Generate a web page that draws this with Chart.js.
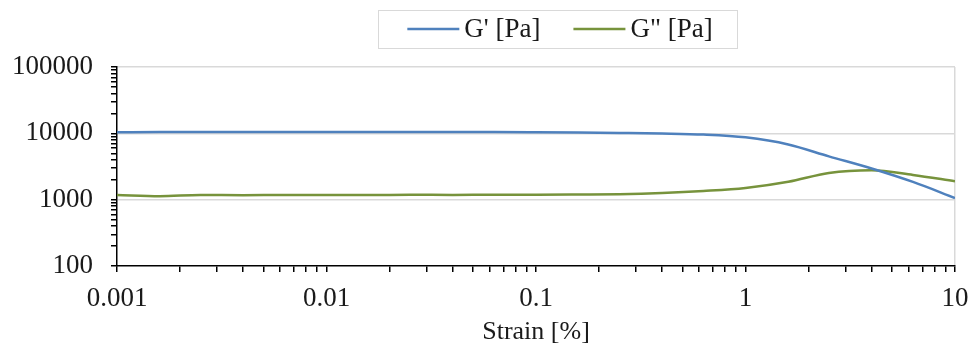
<!DOCTYPE html>
<html>
<head>
<meta charset="utf-8">
<script src="https://cdn.jsdelivr.net/npm/chart.js@4.4.1/dist/chart.umd.min.js"></script>
<style>
  html, body { margin: 0; padding: 0; background: #fff; }
  #wrap { width: 972px; height: 351px; position: relative; }
</style>
</head>
<body>
<div id="wrap"><canvas id="strainChart"></canvas></div>
<script>
// Amplitude sweep: G' and G'' vs strain

const strain = [0.001, 0.0016, 0.0025, 0.004, 0.0063, 0.01, 0.016, 0.025, 0.04, 0.063,
    0.1, 0.16, 0.25, 0.4, 0.63, 1, 1.6, 2.5, 4, 6.3, 10];
const storageModulus = [10400, 10450, 10450, 10450, 10450, 10450, 10450, 10450, 10450, 10450,
    10400, 10300, 10150, 9950, 9600, 8700, 6800, 4500, 2950, 1850, 1060];
const lossModulus = [1180, 1130, 1180, 1170, 1175, 1175, 1175, 1185, 1180, 1185,
    1185, 1195, 1210, 1260, 1350, 1500, 1860, 2530, 2780, 2360, 1900];

const seriesLabels = ["G' [Pa]", 'G" [Pa]'];
const xTickLabels = ['0.001', '0.01', '0.1', '1', '10'];
const yTickLabels = ['100', '1000', '10000', '100000'];
const xTitle = 'Strain [%]';

const FONT = 'Liberation Serif, Times New Roman, serif';
const TEXT = '#1a1a1a';
const GRID = '#d9d9d9';

function isDecade(v) {
    const l = Math.log10(v);
    return Math.abs(l - Math.round(l)) < 1e-9;
}

// decades from the label list plus 2..9 minor ticks in between
function buildTicks(labels) {
    const majors = labels.map(Number);
    const ticks = [];
    majors.forEach((d, i) => {
        ticks.push({ value: d, major: true });
        if (i < majors.length - 1) {
            for (let k = 2; k <= 9; k++) {
                ticks.push({ value: Number((d * k).toPrecision(6)) });
            }
        }
    });
    return ticks;
}

function labelFor(labels, value) {
    const found = labels.find(l => Math.abs(Math.log10(Number(l)) - Math.log10(value)) < 1e-9);
    return found || '';
}

// framed legend, drawn by hand like the Excel one
const boxedLegend = {
    id: 'boxedLegend',
    afterDraw(chart) {
        const ctx = chart.ctx;
        ctx.save();
        ctx.font = '27px ' + FONT;
        const lineLen = 52, gapText = 5, gapItem = 33;
        const widths = chart.data.datasets.map(ds => ctx.measureText(ds.label).width);
        const total = widths.reduce((a, w) => a + lineLen + gapText + w, 0) + gapItem * (widths.length - 1);
        const cx = 560, cy = 29;
        let x = cx - total / 2;

        ctx.strokeStyle = GRID;
        ctx.lineWidth = 1;
        ctx.strokeRect(378.5, 10.5, 359, 38);

        chart.data.datasets.forEach((ds, i) => {
            ctx.strokeStyle = ds.borderColor;
            ctx.lineWidth = 2.5;
            ctx.beginPath();
            ctx.moveTo(x, cy);
            ctx.lineTo(x + lineLen, cy);
            ctx.stroke();
            x += lineLen + gapText;
            ctx.fillStyle = TEXT;
            ctx.textBaseline = 'middle';
            ctx.fillText(ds.label, x, cy + 1);
            x += widths[i] + gapItem;
        });
        ctx.restore();
    }
};

function drawChart() {
    const ctx = document.getElementById('strainChart').getContext('2d');

    new Chart(ctx, {
        type: 'line',
        data: {
            datasets: [{
                label: seriesLabels[0],
                data: strain.map((s, i) => ({ x: s, y: storageModulus[i] })),
                borderColor: '#4F81BD',
                borderWidth: 2.5,
                pointRadius: 0,
                cubicInterpolationMode: 'monotone',
                fill: false
            }, {
                label: seriesLabels[1],
                data: strain.map((s, i) => ({ x: s, y: lossModulus[i] })),
                borderColor: '#77933C',
                borderWidth: 2.5,
                pointRadius: 0,
                cubicInterpolationMode: 'monotone',
                fill: false
            }]
        },
        options: {
            responsive: true,
            maintainAspectRatio: false,
            animation: false,
            layout: {
                padding: { left: 0, right: 17, top: 67, bottom: 3 }
            },
            plugins: {
                legend: { display: false },
                tooltip: { enabled: false }
            },
            scales: {
                x: {
                    type: 'logarithmic',
                    min: 0.001,
                    max: 10,
                    afterBuildTicks: scale => { scale.ticks = buildTicks(xTickLabels); },
                    afterFit: scale => {
                        scale.height = 82;
                        scale.paddingLeft = 0;
                        scale.paddingRight = 0;
                    },
                    border: { display: true, color: '#000', width: 1.5 },
                    grid: {
                        drawOnChartArea: true,
                        color: c => (c.tick && c.tick.value === 10 ? GRID : 'rgba(0,0,0,0)'),
                        tickColor: '#000',
                        tickLength: 6,
                        lineWidth: 1.5
                    },
                    ticks: {
                        autoSkip: false,
                        maxRotation: 0,
                        padding: 11,
                        color: TEXT,
                        font: { family: FONT, size: 27 },
                        callback: value => labelFor(xTickLabels, value)
                    },
                    title: {
                        display: true,
                        text: xTitle,
                        color: TEXT,
                        font: { family: FONT, size: 26 },
                        padding: { top: 2, bottom: 0 }
                    }
                },
                y: {
                    type: 'logarithmic',
                    min: 100,
                    max: 100000,
                    afterBuildTicks: scale => { scale.ticks = buildTicks(yTickLabels); },
                    afterFit: scale => {
                        scale.width = 117;
                        scale.paddingTop = 0;
                        scale.paddingBottom = 0;
                    },
                    border: { display: true, color: '#000', width: 1.5 },
                    grid: {
                        drawOnChartArea: true,
                        color: c => (c.tick && isDecade(c.tick.value) && c.tick.value > 100 ? GRID : 'rgba(0,0,0,0)'),
                        tickColor: '#000',
                        tickLength: 6,
                        lineWidth: 1.5
                    },
                    ticks: {
                        autoSkip: false,
                        padding: 18,
                        color: TEXT,
                        font: { family: FONT, size: 27 },
                        callback: value => labelFor(yTickLabels, value)
                    }
                }
            }
        },
        plugins: [boxedLegend]
    });
}

// make sure the serif face is ready before the canvas text is measured
document.fonts.load('24px "Liberation Serif"').then(drawChart, drawChart);
</script>
</body>
</html>
